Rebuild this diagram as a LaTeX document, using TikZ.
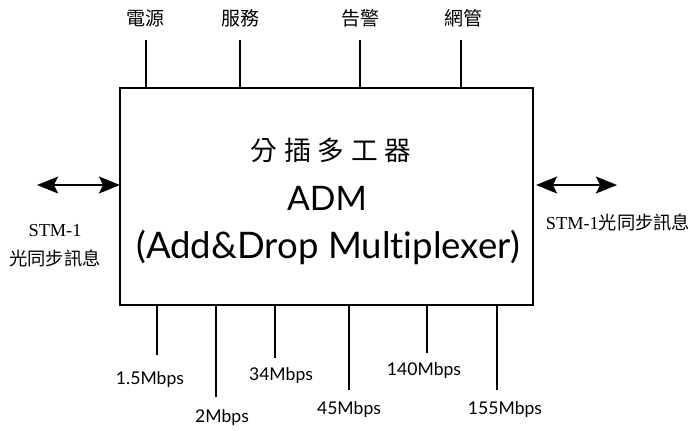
\documentclass[tikz,border=0pt]{standalone}
\usepackage{fontspec}
\setmainfont{Liberation Serif}
\newfontfamily\cjk{Noto Sans CJK TC}
\newfontfamily\cjkwide[LetterSpace=25]{Noto Sans CJK TC}
\newfontfamily\hand[Ligatures=NoCommon]{Lato}
\usetikzlibrary{arrows.meta}

\tikzset{
    link/.style={{Stealth[length=15pt,width=12pt,inset=3pt]}-{Stealth[length=15pt,width=12pt,inset=3pt]}, line width=1.6pt}
}

\begin{document}
\begin{tikzpicture}[x=0.025cm, y=-0.025cm, line width=1.4pt]

    \useasboundingbox (0,0) rectangle (690,430);

    % =========================================================================
    % MAIN BOX: ADM
    % =========================================================================
    \coordinate (box-nw) at (120, 88);
    \coordinate (box-se) at (533, 305);
    \draw (box-nw) rectangle (box-se);
    \node (adm-cn)   at (331, 150) {\cjkwide\fontsize{19}{22}\selectfont 分插多工器};
    \node (adm-name) at (327, 198) {\hand\fontsize{24}{28}\selectfont ADM};
    \node (adm-full) at (328, 247) {\hand\fontsize{26}{30}\selectfont (Add\&Drop Multiplexer)};

    % =========================================================================
    % TOP: management lines
    % =========================================================================
    \coordinate (pwr)   at (146, 40);
    \coordinate (svc)   at (240, 40);
    \coordinate (alarm) at (360, 40);
    \coordinate (nms)   at (461, 40);
    \foreach \c in {pwr, svc, alarm, nms}
        \draw (\c) -- (\c |- box-nw);
    \node (pwr-lbl)   at (145, 18) {\cjk\fontsize{13.5}{16}\selectfont 電源};
    \node (svc-lbl)   at (240, 18) {\cjk\fontsize{13.5}{16}\selectfont 服務};
    \node (alarm-lbl) at (360, 18) {\cjk\fontsize{13.5}{16}\selectfont 告警};
    \node (nms-lbl)   at (463, 18) {\cjk\fontsize{13.5}{16}\selectfont 網管};

    % =========================================================================
    % SIDES: STM-1 optical links
    % =========================================================================
    \coordinate (L-end) at (37, 185);
    \coordinate (R-end) at (617, 185);
    \draw[link] (L-end) -- (L-end -| box-nw);
    \draw[link] (R-end -| box-se) ++(3,0) -- (R-end);
    \node (L-lbl1) at (55, 231) {\fontsize{13}{15}\selectfont STM-1};
    \node (L-lbl2) at (55, 258) {\cjk\fontsize{13}{15}\selectfont 光同步訊息};
    \node[anchor=west, inner sep=0pt] (R-lbl) at (545, 222) {\fontsize{13}{15}\selectfont STM-1\cjk 光同步訊息};

    % =========================================================================
    % BOTTOM: tributary lines
    % =========================================================================
    \coordinate (t1) at (157, 355);
    \coordinate (t2) at (216, 397);
    \coordinate (t3) at (275, 358);
    \coordinate (t4) at (349, 390);
    \coordinate (t5) at (427, 353);
    \coordinate (t6) at (497, 390);
    \foreach \c in {t1, t2, t3, t4, t5, t6}
        \draw (\c) -- (\c |- box-se);
    \node (t1-lbl) at (150, 380) {\hand\fontsize{12.5}{14}\selectfont 1.5Mbps};
    \node (t2-lbl) at (222, 418) {\hand\fontsize{12.5}{14}\selectfont 2Mbps};
    \node (t3-lbl) at (281, 376) {\hand\fontsize{12.5}{14}\selectfont 34Mbps};
    \node (t4-lbl) at (349, 410) {\hand\fontsize{12.5}{14}\selectfont 45Mbps};
    \node (t5-lbl) at (424, 371) {\hand\fontsize{12.5}{14}\selectfont 140Mbps};
    \node (t6-lbl) at (505, 410) {\hand\fontsize{12.5}{14}\selectfont 155Mbps};

\end{tikzpicture}
\end{document}
